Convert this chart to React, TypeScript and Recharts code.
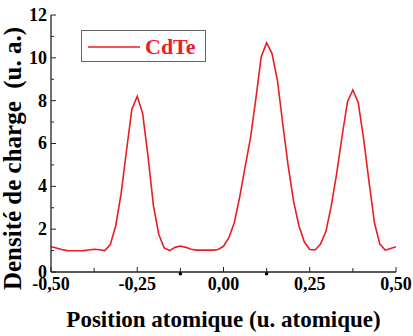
import React from "react";
import {
  LineChart,
  Line,
  XAxis,
  YAxis,
  Legend,
  Label,
  ReferenceDot,
} from "recharts";

// Atomic positions along the line (u. atomique)
const positions = [
  -0.5, -0.4844, -0.4688, -0.4531, -0.4375, -0.4219, -0.4063, -0.3906,
  -0.375, -0.3594, -0.3438, -0.3281, -0.3125, -0.2969, -0.2813, -0.2656,
  -0.25, -0.2344, -0.2188, -0.2031, -0.1875, -0.1719, -0.1563, -0.1406,
  -0.125, -0.1094, -0.0938, -0.0781, -0.0625, -0.0469, -0.0313, -0.0156,
  0, 0.0156, 0.0313, 0.0469, 0.0625, 0.0781, 0.0938, 0.1094,
  0.125, 0.1406, 0.1563, 0.1719, 0.1875, 0.2031, 0.2188, 0.2344,
  0.25, 0.2656, 0.2813, 0.2969, 0.3125, 0.3281, 0.3438, 0.3594,
  0.375, 0.3906, 0.4063, 0.4219, 0.4375, 0.4531, 0.4688, 0.4844,
  0.5,
];

// Charge density of CdTe (u. a.)
const cdteDensity = [
  1.18, 1.12, 1.05, 1.0, 0.99, 0.99, 1.0, 1.03,
  1.06, 1.04, 1.0, 1.28, 2.15, 3.65, 5.65, 7.6,
  8.2, 7.4, 5.4, 3.1, 1.75, 1.12, 1.0, 1.15,
  1.21, 1.15, 1.06, 1.02, 1.02, 1.02, 1.02, 1.05,
  1.2, 1.6, 2.3, 3.5, 4.9, 6.25, 8.1, 10.05,
  10.7, 10.2, 8.95, 6.9, 4.95, 3.3, 2.15, 1.4,
  1.05, 1.03, 1.3, 1.9, 3.1, 4.6, 6.35, 7.95,
  8.5, 7.9, 6.2, 4.2, 2.3, 1.3, 1.02, 1.1,
  1.18,
];

const xTicks = [-0.5, -0.375, -0.25, -0.125, 0, 0.125, 0.25, 0.375, 0.5];
const yTicks = [0, 1, 2, 3, 4, 5, 6, 7, 8, 9, 10, 11, 12];
const atomSites = [-0.125, 0.125];

const seriesName = "CdTe";
const xTitle = "Position atomique (u. atomique)";
const yTitle = "Densité de charge  (u. a.)";

const data = positions.map((x, i) => ({ x, y: cdteDensity[i] }));

const FONT = '"Liberation Serif", "DejaVu Serif", serif';
const RED = "#ec1c24";
const AXIS = "#222";

const fmt = (v: number) => v.toFixed(2).replace(".", ",");

const XTick = (props: any) => {
  const { x, y, payload } = props;
  const v = payload.value as number;
  const major = Math.abs(v * 4 - Math.round(v * 4)) < 1e-6;
  return (
    <g>
      <line x1={x} x2={x} y1={y} y2={y - (major ? 5 : 4)} stroke={AXIS} strokeWidth={1} />
      {major && (
        <text
          x={x}
          y={y + 18}
          textAnchor="middle"
          style={{ fontFamily: FONT, fontWeight: 700, fontSize: 18 }}
          fill="#000"
        >
          {fmt(v)}
        </text>
      )}
    </g>
  );
};

const YTick = (props: any) => {
  const { x, y, payload } = props;
  const v = payload.value as number;
  const major = v % 2 === 0;
  return (
    <g>
      <line x1={x} x2={x + (major ? 5 : 3)} y1={y} y2={y} stroke={AXIS} strokeWidth={1} />
      {major && (
        <text
          x={x - 4}
          y={y}
          dy="0.33em"
          textAnchor="end"
          style={{ fontFamily: FONT, fontWeight: 700, fontSize: 18 }}
          fill="#000"
        >
          {v}
        </text>
      )}
    </g>
  );
};

const XTitle = (props: any) => {
  const vb = props.viewBox;
  return (
    <text
      x={vb.x + vb.width / 2}
      y={vb.y + 55}
      textAnchor="middle"
      style={{ fontFamily: FONT, fontWeight: 700, fontSize: 23 }}
      fill="#000"
    >
      {xTitle}
    </text>
  );
};

const YTitle = (props: any) => {
  const vb = props.viewBox;
  const cx = vb.x + 21;
  const cy = vb.y + vb.height / 2 + 15;
  return (
    <text
      x={cx}
      y={cy}
      transform={`rotate(-90, ${cx}, ${cy})`}
      textAnchor="middle"
      style={{ fontFamily: FONT, fontWeight: 700, fontSize: 25, whiteSpace: "pre" }}
      fill="#000"
    >
      {yTitle}
    </text>
  );
};

const LegendBox = () => (
  <div
    style={{
      width: 125,
      height: 32,
      boxSizing: "border-box",
      border: "1px solid #666",
      background: "#fff",
      position: "relative",
    }}
  >
    <svg width={60} height={30} style={{ position: "absolute", left: 0, top: 0 }}>
      <line x1={6} x2={58} y1={16} y2={16} stroke={RED} strokeWidth={1.6} />
    </svg>
    <span
      style={{
        position: "absolute",
        left: 63,
        top: 1,
        lineHeight: "30px",
        fontFamily: FONT,
        fontWeight: 700,
        fontSize: 22,
        color: RED,
      }}
    >
      {seriesName}
    </span>
  </div>
);

export default function App() {
  return (
    <div style={{ position: "absolute", left: 0, top: 0, background: "#fff" }}>
      <LineChart
        width={413}
        height={336}
        data={data}
        margin={{ top: 15, right: 17, bottom: 0, left: 0 }}
      >
        <XAxis
          dataKey="x"
          type="number"
          domain={[-0.5, 0.5]}
          ticks={xTicks}
          interval={0}
          height={64}
          tickSize={0}
          tickMargin={0}
          tickLine={false}
          tick={<XTick />}
          axisLine={{ stroke: AXIS, strokeWidth: 1.3 }}
          allowDataOverflow
        >
          <Label content={<XTitle />} />
        </XAxis>
        <XAxis
          xAxisId="top"
          orientation="top"
          dataKey="x"
          type="number"
          domain={[-0.5, 0.5]}
          height={0}
          tick={false}
          tickLine={false}
          axisLine={{ stroke: "#444", strokeWidth: 1.3 }}
        />
        <YAxis
          type="number"
          domain={[0, 12]}
          ticks={yTicks}
          interval={0}
          width={51}
          tickSize={0}
          tickMargin={0}
          tickLine={false}
          tick={<YTick />}
          axisLine={{ stroke: AXIS, strokeWidth: 1.3 }}
          allowDataOverflow
        >
          <Label content={<YTitle />} />
        </YAxis>
        <YAxis
          yAxisId="right"
          orientation="right"
          type="number"
          domain={[0, 12]}
          width={0}
          tick={false}
          tickLine={false}
          axisLine={{ stroke: "#444", strokeWidth: 1.3 }}
        />
        <Legend
          layout="vertical"
          align="center"
          verticalAlign="middle"
          content={<LegendBox />}
          wrapperStyle={{ left: 81, top: 30, width: 125, height: 32 }}
        />
        <Line
          dataKey="y"
          name={seriesName}
          stroke={RED}
          strokeWidth={1.6}
          dot={false}
          isAnimationActive={false}
        />
        {atomSites.map((s) => (
          <ReferenceDot
            key={s}
            x={s}
            y={-0.08}
            r={1.8}
            fill="#000"
            stroke="none"
            ifOverflow="visible"
          />
        ))}
      </LineChart>
    </div>
  );
}
